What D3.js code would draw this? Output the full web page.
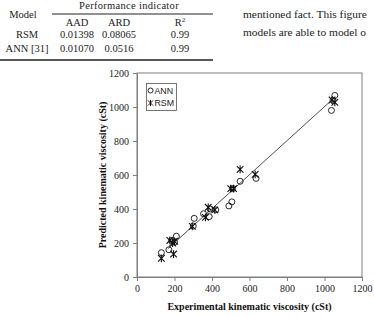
<!DOCTYPE html>
<html><head><meta charset="utf-8">
<script src="https://cdn.jsdelivr.net/npm/d3@7"></script>
<style>
html,body{margin:0;padding:0;background:#fff;}
svg{display:block;}
</style></head>
<body>
<svg id="c" width="374" height="316"></svg>
<script>
// ---- data ----
const tableHeaders = ["AAD", "ARD", "R\u00b2"];
const tableModels = ["RSM", "ANN [31]"];
const tableAAD = ["0.01398", "0.01070"];
const tableARD = ["0.08065", "0.0516"];
const tableR2 = ["0.99", "0.99"];
const paragraphLines = ["mentioned fact. This figure", "models are able to model o"];

const annX = [130, 170, 185, 200, 210, 300, 305, 355, 385, 390, 420, 490, 506, 510, 550, 635, 1037, 1055, 1045];
const annY = [143, 160, 215, 205, 240, 300, 345, 372, 355, 400, 395, 418, 442, 520, 563, 580, 980, 1068, 1040];
const rsmX = [130, 175, 190, 200, 195, 295, 365, 380, 415, 500, 515, 550, 630, 1040, 1055];
const rsmY = [110, 215, 200, 210, 135, 298, 351, 410, 395, 520, 520, 633, 604, 1041, 1027];
const lineX = [165, 1040];
const lineY = [167, 1042];
const xTicks = [0, 200, 400, 600, 800, 1000, 1200];
const yTicks = [0, 200, 400, 600, 800, 1000, 1200];
const xTitle = "Experimental kinematic viscosity (cSt)";
const yTitle = "Predicted kinematic viscosity (cSt)";
const legendLabels = ["ANN", "RSM"];

const svg = d3.select("#c");
const serif = "'Liberation Serif','Times New Roman',serif";
const sans = "'Liberation Sans',Arial,sans-serif";

// ---- table ----
const tbl = svg.append("g").attr("font-family", serif).attr("font-size", 10.5).attr("fill", "#222");
tbl.append("text").attr("x", 23).attr("y", 18).attr("text-anchor", "middle").text("Model");
tbl.append("text").attr("x", 129).attr("y", 9).attr("text-anchor", "middle").attr("letter-spacing", 0.3).text("Performance  indicator");
tbl.append("line").attr("x1", 52).attr("x2", 213).attr("y1", 14).attr("y2", 14).attr("stroke", "#222").attr("stroke-width", 1);
const colX = [77, 119, 180];
tableHeaders.forEach((h, i) => {
  const t = tbl.append("text").attr("x", colX[i]).attr("y", 26).attr("text-anchor", "middle");
  if (h.endsWith("\u00b2")) {
    t.text("R");
    t.append("tspan").attr("font-size", 7).attr("dy", -4).text("2");
  } else t.text(h);
});
const rowY = [38, 52];
tableModels.forEach((m, i) => {
  tbl.append("text").attr("x", 27).attr("y", rowY[i]).attr("text-anchor", "middle").text(m);
  tbl.append("text").attr("x", colX[0]).attr("y", rowY[i]).attr("text-anchor", "middle").text(tableAAD[i]);
  tbl.append("text").attr("x", colX[1]).attr("y", rowY[i]).attr("text-anchor", "middle").text(tableARD[i]);
  tbl.append("text").attr("x", colX[2]).attr("y", rowY[i]).attr("text-anchor", "middle").text(tableR2[i]);
});
tbl.append("line").attr("x1", 0).attr("x2", 213).attr("y1", 60).attr("y2", 60).attr("stroke", "#222").attr("stroke-width", 1.5);

// ---- paragraph ----
paragraphLines.forEach((l, i) => {
  svg.append("text").attr("x", 243).attr("y", 18 + i * 18)
    .attr("font-family", serif).attr("font-size", 11.4).attr("fill", "#222").text(l);
});

// ---- chart ----
const L = 137, R = 362, T = 73, B = 277;
const x = d3.scaleLinear().domain([0, 1200]).range([L, R]);
const y = d3.scaleLinear().domain([0, 1200]).range([B, T]);

svg.append("rect").attr("x", L).attr("y", T).attr("width", R - L).attr("height", B - T)
  .attr("fill", "none").attr("stroke", "#7f7f7f").attr("stroke-width", 1);

const fmt = d3.format("d");
const xa = svg.append("g").attr("transform", `translate(0,${B})`)
  .call(d3.axisBottom(x).tickValues(xTicks).tickFormat(fmt).tickSize(4).tickSizeOuter(0).tickPadding(4));
const ya = svg.append("g").attr("transform", `translate(${L},0)`)
  .call(d3.axisLeft(y).tickValues(yTicks).tickFormat(fmt).tickSize(4).tickSizeOuter(0).tickPadding(4));
[xa, ya].forEach(a => {
  a.selectAll("path,line").attr("stroke", "#7f7f7f");
  a.selectAll("text").attr("font-family", serif).attr("font-size", 10).attr("fill", "#222");
});

// fit line
svg.append("line").attr("x1", x(lineX[0])).attr("y1", y(lineY[0])).attr("x2", x(lineX[1])).attr("y2", y(lineY[1]))
  .attr("stroke", "#222").attr("stroke-width", 0.8);

// ANN circles
svg.append("g").selectAll("circle").data(annX.map((v, i) => [v, annY[i]])).join("circle")
  .attr("cx", d => x(d[0])).attr("cy", d => y(d[1])).attr("r", 3)
  .attr("fill", "none").attr("stroke", "#111").attr("stroke-width", 0.9);

// RSM stars (X plus vertical bar)
const s = 3.3;
const starPath = `M${-s},${-s}L${s},${s}M${-s},${s}L${s},${-s}M0,${-s - 0.6}L0,${s + 0.6}`;
svg.append("g").selectAll("path").data(rsmX.map((v, i) => [v, rsmY[i]])).join("path")
  .attr("transform", d => `translate(${x(d[0])},${y(d[1])})`)
  .attr("d", starPath).attr("fill", "none").attr("stroke", "#111").attr("stroke-width", 1.1);

// legend
const lg = svg.append("g");
lg.append("rect").attr("x", 146.5).attr("y", 83.5).attr("width", 30).attr("height", 27)
  .attr("fill", "#fff").attr("stroke", "#555").attr("stroke-width", 0.8);
lg.append("circle").attr("cx", 150.5).attr("cy", 90.5).attr("r", 2.5).attr("fill", "none").attr("stroke", "#111").attr("stroke-width", 0.9);
const s2 = 2.6;
lg.append("path").attr("transform", "translate(150.5,103)")
  .attr("d", `M${-s2},${-s2}L${s2},${s2}M${-s2},${s2}L${s2},${-s2}M0,${-s2 - 0.5}L0,${s2 + 0.5}`)
  .attr("stroke", "#111").attr("stroke-width", 1);
legendLabels.forEach((t, i) => {
  lg.append("text").attr("x", 154.5).attr("y", 93.8 + i * 12.5).attr("font-family", sans)
    .attr("font-size", 8.8).attr("fill", "#222").text(t);
});

// titles
svg.append("text").attr("x", (L + R) / 2).attr("y", 310).attr("text-anchor", "middle")
  .attr("font-family", serif).attr("font-weight", "bold").attr("font-size", 10).attr("fill", "#111").text(xTitle);
svg.append("text").attr("transform", `translate(106,${(T + B) / 2}) rotate(-90)`).attr("text-anchor", "middle")
  .attr("font-family", serif).attr("font-weight", "bold").attr("font-size", 10).attr("fill", "#111").text(yTitle);
</script>
</body></html>
